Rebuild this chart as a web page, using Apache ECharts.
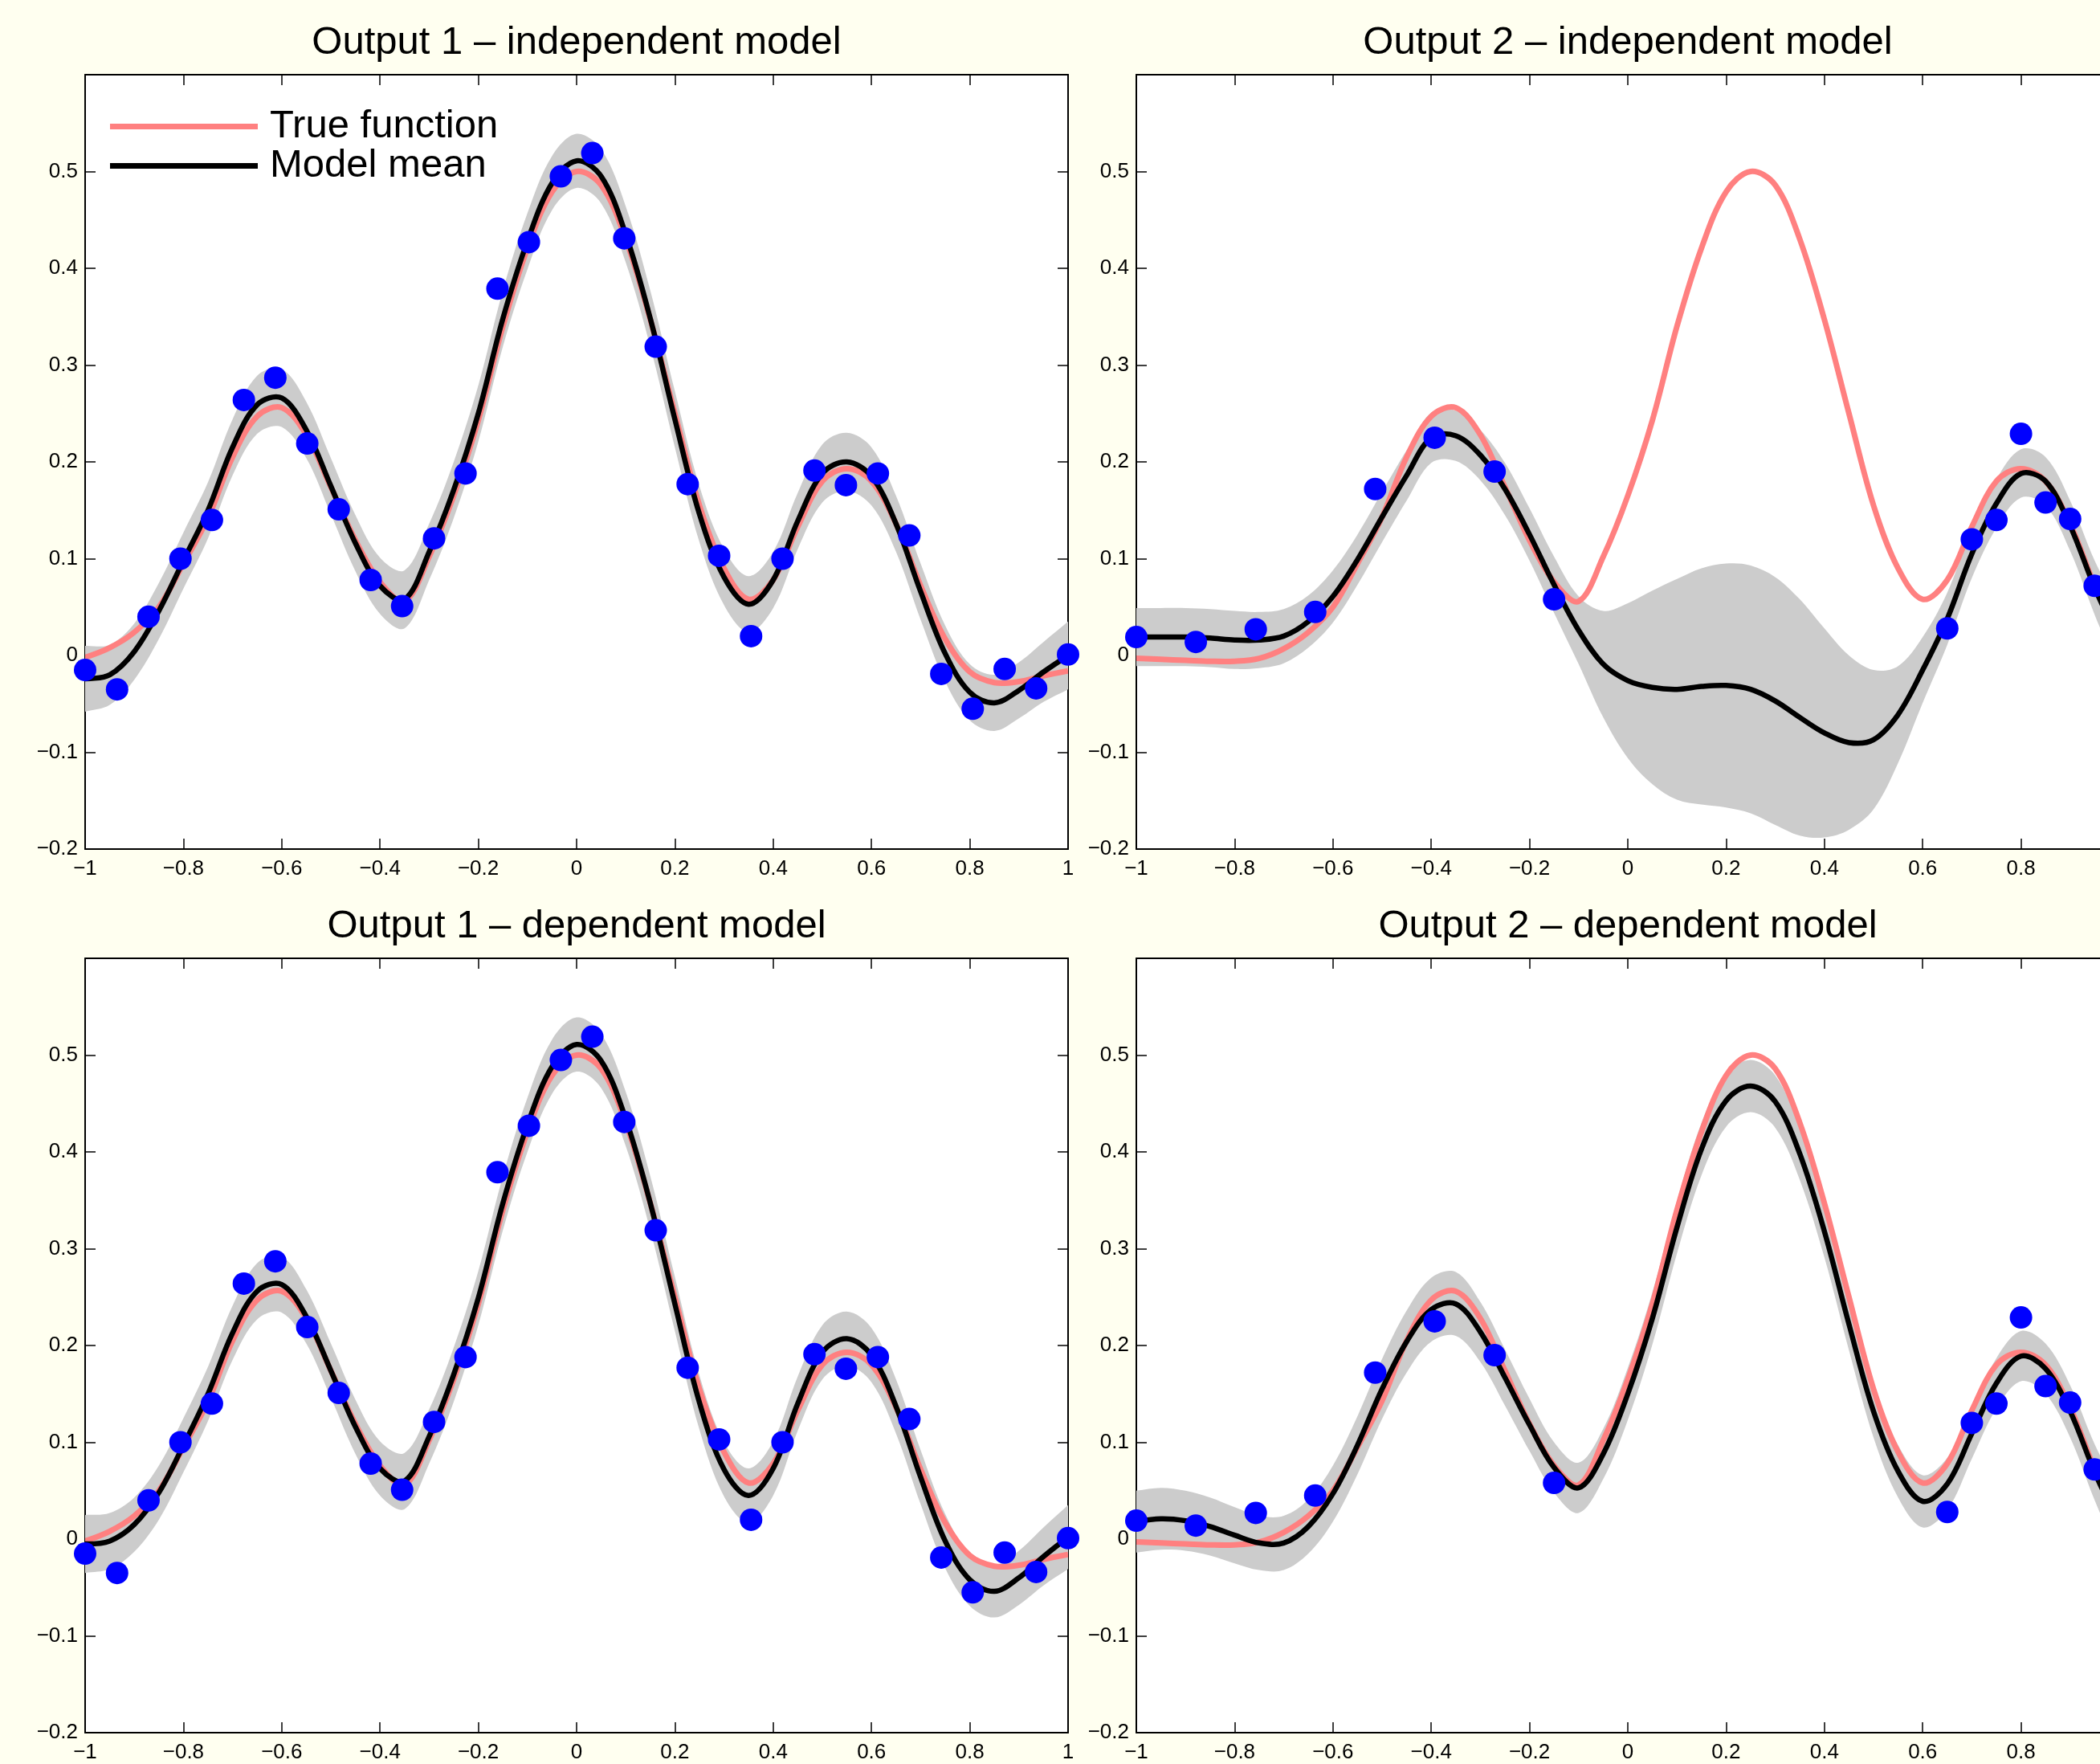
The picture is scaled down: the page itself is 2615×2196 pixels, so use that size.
<!DOCTYPE html>
<html><head><meta charset="utf-8">
<script src="https://cdn.jsdelivr.net/npm/echarts@6/dist/echarts.min.js"></script>
<style>html,body{margin:0;padding:0;background:#fffff0;}#chart{width:2615px;height:2196px;}</style>
</head><body><div id="chart"></div>
<script>
// ---------- data ----------
const xs = [-1,-0.95,-0.9,-0.85,-0.8,-0.75,-0.7,-0.65,-0.6,-0.55,-0.5,-0.45,-0.4,-0.35,-0.3,-0.25,-0.2,-0.15,-0.1,-0.05,0,0.05,0.1,0.15,0.2,0.25,0.3,0.35,0.4,0.45,0.5,0.55,0.6,0.65,0.7,0.75,0.8,0.85,0.9,0.95,1];

const trueOut1 = [-0.002,0.008,0.024,0.050,0.095,0.142,0.205,0.247,0.256,0.228,0.174,0.119,0.076,0.056,0.102,0.165,0.243,0.340,0.421,0.479,0.500,0.486,0.430,0.347,0.250,0.155,0.090,0.058,0.078,0.133,0.180,0.193,0.180,0.136,0.072,0.017,-0.017,-0.028,-0.027,-0.021,-0.016];
const trueOut2 = [-0.003,-0.004,-0.005,-0.006,-0.006,-0.003,0.007,0.024,0.050,0.095,0.143,0.205,0.247,0.256,0.228,0.174,0.119,0.076,0.056,0.102,0.165,0.243,0.340,0.421,0.479,0.500,0.486,0.430,0.347,0.250,0.155,0.090,0.058,0.078,0.133,0.180,0.193,0.180,0.136,0.072,0.017];

const meanIndep1 = [-0.024,-0.020,0.004,0.046,0.098,0.150,0.215,0.259,0.266,0.233,0.175,0.116,0.072,0.058,0.107,0.171,0.250,0.348,0.428,0.488,0.511,0.495,0.435,0.348,0.244,0.146,0.081,0.053,0.078,0.139,0.188,0.200,0.185,0.136,0.066,0.002,-0.038,-0.049,-0.036,-0.017,0.000];
const bandIndep1 = [0.034,0.031,0.029,0.029,0.029,0.029,0.029,0.030,0.030,0.029,0.029,0.029,0.029,0.030,0.029,0.029,0.029,0.029,0.029,0.028,0.028,0.028,0.029,0.029,0.029,0.029,0.029,0.029,0.029,0.029,0.030,0.030,0.030,0.029,0.029,0.029,0.029,0.029,0.029,0.031,0.035];

const meanIndep2 = [0.019,0.019,0.019,0.018,0.016,0.016,0.020,0.035,0.061,0.099,0.143,0.186,0.225,0.227,0.207,0.172,0.125,0.073,0.026,-0.009,-0.026,-0.033,-0.035,-0.032,-0.031,-0.035,-0.047,-0.064,-0.080,-0.090,-0.087,-0.061,-0.015,0.038,0.105,0.157,0.188,0.180,0.134,0.070,0.015];
const bandIndep2 = [0.030,0.030,0.030,0.030,0.030,0.029,0.028,0.027,0.027,0.026,0.026,0.026,0.026,0.026,0.026,0.027,0.027,0.029,0.035,0.055,0.080,0.100,0.114,0.122,0.126,0.128,0.128,0.122,0.108,0.090,0.072,0.050,0.034,0.027,0.025,0.025,0.025,0.025,0.026,0.028,0.033];

const meanDep1 = [-0.005,-0.002,0.015,0.048,0.097,0.150,0.213,0.256,0.263,0.230,0.174,0.116,0.073,0.060,0.106,0.170,0.249,0.347,0.428,0.488,0.511,0.494,0.434,0.347,0.243,0.141,0.072,0.045,0.073,0.140,0.193,0.207,0.190,0.137,0.064,-0.002,-0.042,-0.054,-0.040,-0.018,0.002];
const bandDep1 = [0.030,0.029,0.028,0.028,0.028,0.028,0.028,0.029,0.029,0.028,0.028,0.028,0.028,0.029,0.028,0.028,0.028,0.028,0.028,0.028,0.028,0.028,0.028,0.028,0.028,0.028,0.028,0.028,0.028,0.028,0.028,0.028,0.028,0.028,0.028,0.028,0.027,0.027,0.028,0.030,0.033];

const meanDep2 = [0.018,0.021,0.019,0.013,0.004,-0.004,-0.004,0.013,0.047,0.097,0.155,0.204,0.237,0.243,0.214,0.167,0.118,0.074,0.053,0.088,0.150,0.228,0.322,0.403,0.453,0.468,0.452,0.398,0.318,0.222,0.132,0.070,0.039,0.057,0.109,0.161,0.189,0.176,0.132,0.069,0.015];
const bandDep2 = [0.032,0.032,0.031,0.030,0.029,0.028,0.028,0.028,0.029,0.030,0.031,0.032,0.033,0.033,0.031,0.029,0.027,0.026,0.026,0.026,0.027,0.027,0.027,0.027,0.027,0.027,0.027,0.027,0.027,0.027,0.027,0.027,0.027,0.027,0.026,0.026,0.026,0.026,0.027,0.029,0.033];

const obsX1 = [-1,-0.935,-0.871,-0.806,-0.742,-0.677,-0.613,-0.548,-0.484,-0.419,-0.355,-0.290,-0.226,-0.161,-0.097,-0.032,0.032,0.097,0.161,0.226,0.290,0.355,0.419,0.484,0.548,0.613,0.677,0.742,0.806,0.871,0.935,1];
const obsY1 = [-0.015,-0.035,0.040,0.100,0.140,0.264,0.287,0.219,0.151,0.078,0.051,0.121,0.188,0.379,0.427,0.495,0.519,0.431,0.319,0.177,0.103,0.020,0.100,0.191,0.176,0.188,0.124,-0.019,-0.055,-0.014,-0.034,0.001];
const obsX2 = [-1,-0.879,-0.757,-0.636,-0.514,-0.393,-0.271,-0.15,0.65,0.7,0.75,0.8,0.85,0.9,0.95];
const obsY2 = [0.019,0.014,0.027,0.045,0.172,0.225,0.190,0.058,0.028,0.120,0.140,0.229,0.158,0.141,0.072];

const titles = ['Output 1 \u2013 independent model','Output 2 \u2013 independent model','Output 1 \u2013 dependent model','Output 2 \u2013 dependent model'];
const legendNames = ['True function','Model mean'];

// ---------- layout ----------
const FONT = 'Liberation Sans';
const PW = 1224, PH = 964;
const SMOOTH = 0.35;
const panels = [
  {left:106, top:93, truth:trueOut1, mean:meanIndep1, band:bandIndep1, ox:obsX1, oy:obsY1},
  {left:1415, top:93, truth:trueOut2, mean:meanIndep2, band:bandIndep2, ox:obsX2, oy:obsY2},
  {left:106, top:1193, truth:trueOut1, mean:meanDep1, band:bandDep1, ox:obsX1, oy:obsY1},
  {left:1415, top:1193, truth:trueOut2, mean:meanDep2, band:bandDep2, ox:obsX2, oy:obsY2}
];

function fmt(v, hideMax) {
  const r = Math.round(v * 10) / 10;
  if (hideMax && r >= 0.6) return '';
  if (r === 0) return '0';
  return String(r).replace('-', '\u2212');
}

// smooth curve through the values, positioned by the chart's own axes
function curveSeries(name, xi, yi, ys, color, width, z) {
  return {name, type:'custom', coordinateSystem:'cartesian2d', xAxisIndex:xi, yAxisIndex:yi, clip:true, silent:true, z,
    itemStyle:{color}, data:[[0,0]],
    renderItem:(params, api) => ({type:'polyline', shape:{points:xs.map((x,k) => api.coord([x, ys[k]])), smooth:SMOOTH},
      style:{stroke:color, lineWidth:width, fill:null, lineJoin:'round'}})};
}
function bandSeries(xi, yi, mean, band) {
  return {type:'custom', coordinateSystem:'cartesian2d', xAxisIndex:xi, yAxisIndex:yi, clip:true, silent:true, z:1,
    data:[[0,0]],
    renderItem:(params, api) => {
      const up = xs.map((x,k) => api.coord([x, mean[k] + band[k]]));
      const lo = xs.map((x,k) => api.coord([x, mean[k] - band[k]])).reverse();
      const pts = [up[0]].concat(up, [up[up.length-1]], [lo[0]], lo, [lo[lo.length-1]]);
      return {type:'polygon', shape:{points:pts, smooth:SMOOTH}, style:{fill:'#cccccc', stroke:null}};
    }};
}

const grid = [], xAxis = [], yAxis = [], series = [], title = [];
const axisLine = {show:true, onZero:false, lineStyle:{color:'#000', width:2}};
const axisTick = {show:true, inside:true, length:13, lineStyle:{color:'#000', width:1.5}};
const labelStyle = {fontSize:26, color:'#000', fontFamily:FONT};

panels.forEach((p, i) => {
  grid.push({left:p.left, top:p.top, width:PW, height:PH, show:true, backgroundColor:'#ffffff', borderWidth:0,
    containLabel:false, outerBoundsMode:'none'});
  title.push({text:titles[i], left:p.left + PW/2, top:p.top - 40, textAlign:'center', textVerticalAlign:'middle', padding:0,
    textStyle:{fontSize:49, fontWeight:'normal', fontFamily:FONT, color:'#000'}});
  xAxis.push({type:'value', gridIndex:i, position:'bottom', min:-1, max:1, interval:0.2, axisLine, axisTick,
    axisLabel:Object.assign({margin:12, formatter:v => fmt(v, false)}, labelStyle), splitLine:{show:false}});
  xAxis.push({type:'value', gridIndex:i, position:'top', min:-1, max:1, interval:0.2, axisLine, axisTick,
    axisLabel:{show:false}, splitLine:{show:false}});
  yAxis.push({type:'value', gridIndex:i, position:'left', min:-0.2, max:0.6, interval:0.1, axisLine, axisTick,
    axisLabel:Object.assign({margin:9, formatter:v => fmt(v, true)}, labelStyle), splitLine:{show:false}});
  yAxis.push({type:'value', gridIndex:i, position:'right', min:-0.2, max:0.6, interval:0.1, axisLine, axisTick,
    axisLabel:{show:false}, splitLine:{show:false}});
  const xi = 2*i, yi = 2*i;
  series.push(bandSeries(xi, yi, p.mean, p.band));
  series.push(curveSeries(legendNames[0], xi, yi, p.truth, '#ff8080', 7, 3));
  series.push(curveSeries(legendNames[1], xi, yi, p.mean, '#000000', 6.5, 4));
  series.push({type:'scatter', xAxisIndex:xi, yAxisIndex:yi, symbol:'circle', symbolSize:28, silent:true, clip:false,
    itemStyle:{color:'#0000ff', opacity:1}, z:5, data:p.ox.map((x,k) => [x, p.oy[k]])});
});

const chart = echarts.init(document.getElementById('chart'), null, {renderer:'canvas', width:2615, height:2196});
chart.setOption({
  backgroundColor:'#fffff0',
  animation:false,
  title, grid, xAxis, yAxis, series,
  legend:{data:legendNames.map(n => ({name:n, icon:'rect'})), orient:'vertical', left:137, top:133, padding:0,
    itemWidth:184, itemHeight:7, itemGap:0, selectedMode:false,
    textStyle:{fontSize:49, lineHeight:49, fontFamily:FONT, color:'#000', padding:[0,0,0,10]}}
});
</script></body></html>
